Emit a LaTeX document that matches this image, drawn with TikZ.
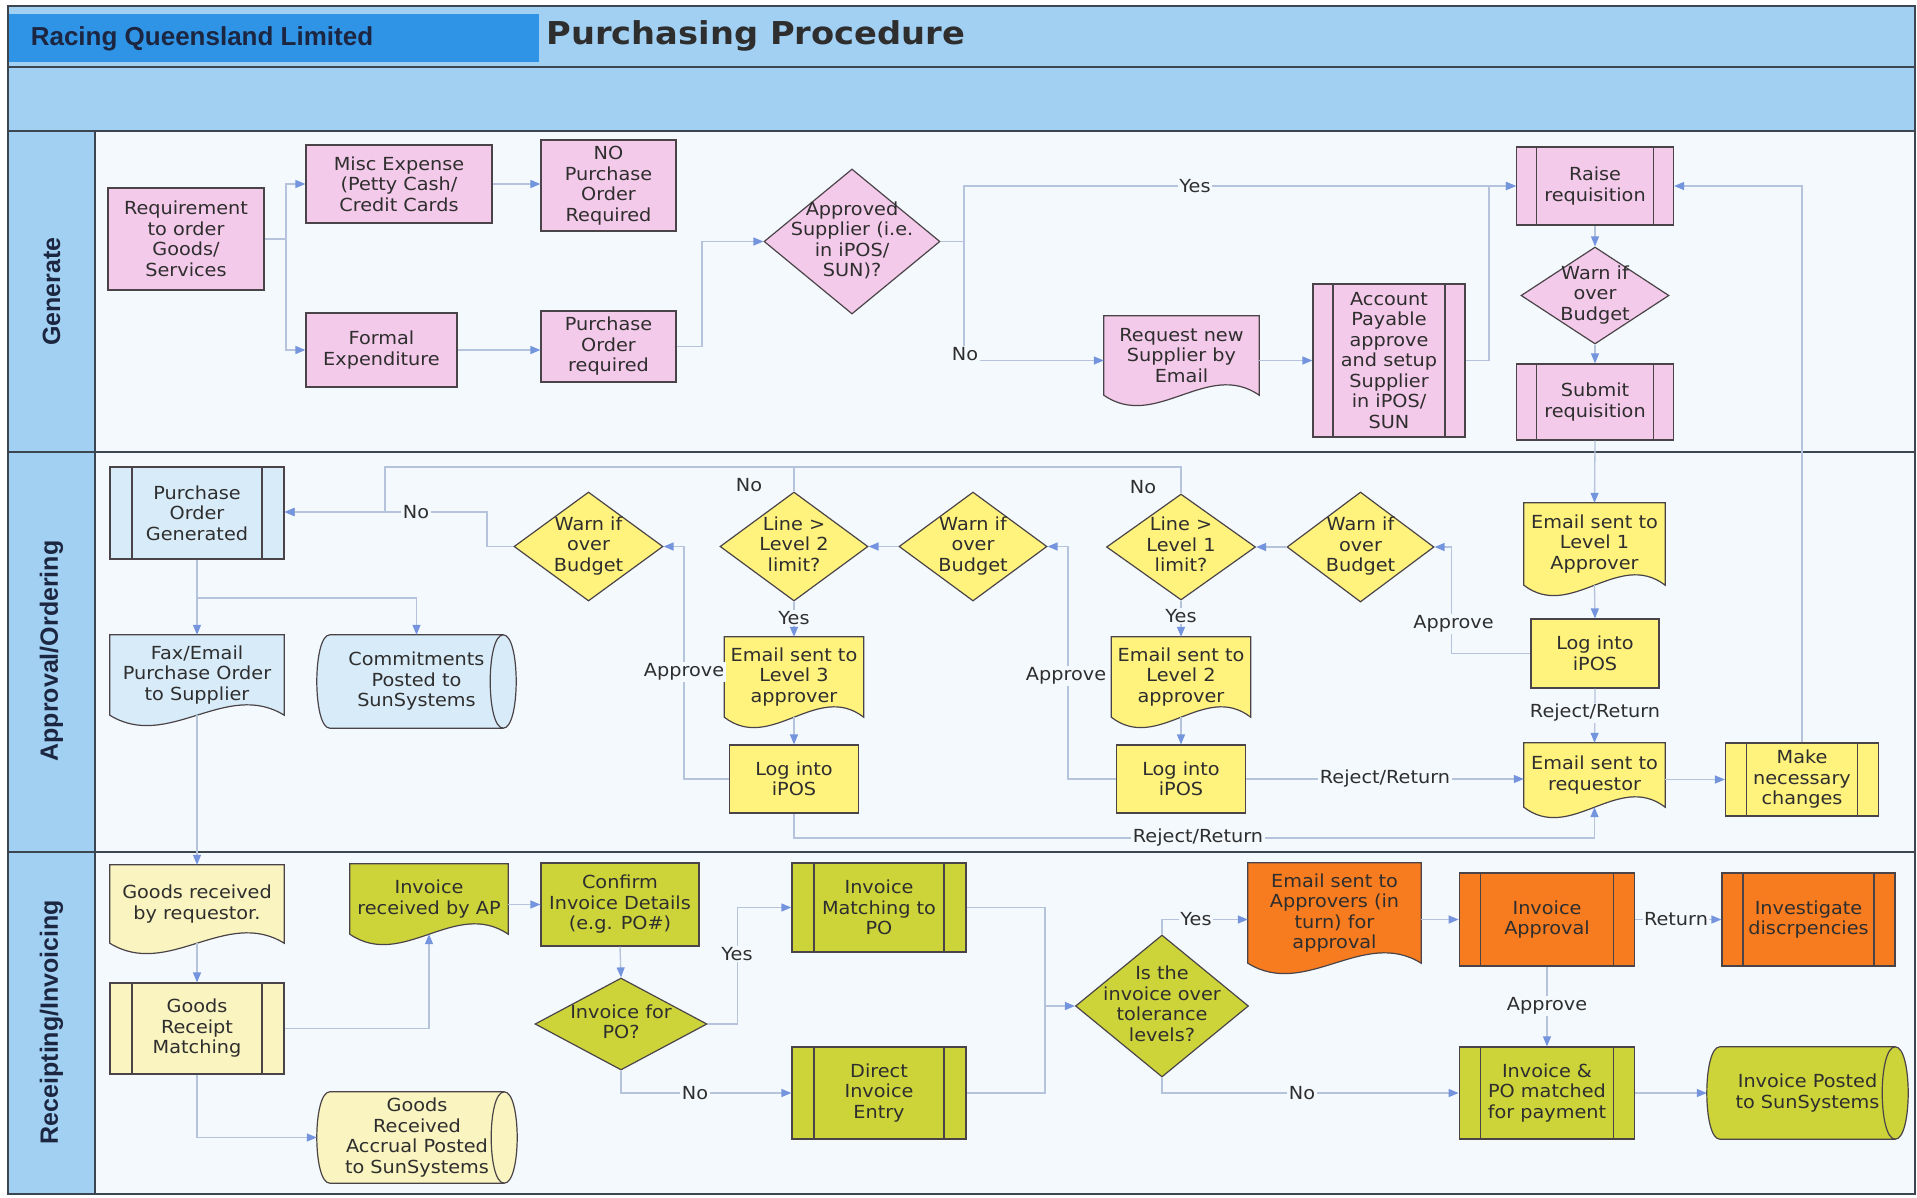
\documentclass[tikz,border=0pt]{standalone}
\usepackage{fontspec}
\setmainfont{DejaVu Sans}[FakeStretch=1.07]
\newfontfamily\hdrfont{Liberation Sans}
\usetikzlibrary{shapes.geometric,arrows.meta,calc}
\pgfdeclarelayer{bg}\pgfdeclarelayer{mid}\pgfsetlayers{bg,mid,main}
\definecolor{hdrblue}{HTML}{A2D0F3}
\definecolor{darkblue}{HTML}{2F93E6}
\definecolor{lanebg}{HTML}{F4F9FD}
\definecolor{framecol}{HTML}{3C4650}
\definecolor{bordercol}{HTML}{4A4448}
\definecolor{textcol}{HTML}{2E2E2E}
\definecolor{titlecol}{HTML}{1C2640}
\definecolor{linecol}{HTML}{B6C3DD}
\definecolor{arrowcol}{HTML}{7594DE}
\definecolor{pinkf}{HTML}{F4CAEA}
\definecolor{bluef}{HTML}{D8EBF8}
\definecolor{yelf}{HTML}{FFF27D}
\definecolor{lyelf}{HTML}{FAF4C0}
\definecolor{olivef}{HTML}{CDD43A}
\definecolor{orangef}{HTML}{F77B1F}
\newcommand\dtext[1]{\raisebox{-4.5pt}[0pt][0pt]{\makebox[0pt]{\begin{tabular}{@{}c@{}}#1\end{tabular}}}}
\newcommand\docshape[2]{%
\begin{pgfonlayer}{mid}
\draw[draw=bordercol, line width=1.2pt, fill=#2] (#1.north west) -- (#1.north east) -- (#1.south east)
  .. controls ($(#1.south east)!0.333!(#1.south west)+(0,-36)$) and ($(#1.south east)!0.667!(#1.south west)+(0,36)$) .. (#1.south west) -- cycle;
\end{pgfonlayer}}
\newcommand\cylshape[2]{%
\begin{pgfonlayer}{mid}
\draw[draw=bordercol, line width=1.2pt, fill=#2] ($(#1.north west)+(13,0)$) -- ($(#1.north east)+(-13,0)$)
  .. controls ($(#1.north east)+(4.33,0)$) and ($(#1.south east)+(4.33,0)$) .. ($(#1.south east)+(-13,0)$)
  -- ($(#1.south west)+(13,0)$)
  .. controls ($(#1.south west)+(-4.33,0)$) and ($(#1.north west)+(-4.33,0)$) .. ($(#1.north west)+(13,0)$) -- cycle;
\draw[draw=bordercol, line width=1.2pt] ($(#1.north east)+(-13,0)$) .. controls ($(#1.north east)+(-30.33,0)$) and ($(#1.south east)+(-30.33,0)$) .. ($(#1.south east)+(-13,0)$);
\end{pgfonlayer}}
\begin{document}
\begin{tikzpicture}[x=1pt,y=-1pt, font=\fontsize{18}{20.5}\selectfont,
  box/.style={rectangle, draw=bordercol, line width=1.2pt, align=center, inner sep=2pt, text=textcol},
  sz/.style 2 args={minimum width=#1, minimum height=#2},
  pp/.style={box, path picture={
    \draw[draw=bordercol, line width=1.2pt] ([xshift=#1]path picture bounding box.north west) -- ([xshift=#1]path picture bounding box.south west);
    \draw[draw=bordercol, line width=1.2pt] ([xshift=-#1]path picture bounding box.north east) -- ([xshift=-#1]path picture bounding box.south east);}},
  pp/.default=20pt,
  dia/.style={diamond, draw=bordercol, line width=1.2pt, inner sep=0pt, text=textcol},
  free/.style={rectangle, align=center, inner sep=2pt, text=textcol},
  conn/.style={draw=linecol, line width=1.3pt},
  arr/.style={conn, -{Triangle[length=10pt,width=8pt,color=arrowcol]}},
  lbl/.style={fill=lanebg, inner sep=1.5pt, text=textcol},
  lane/.style={rotate=90, text=titlecol, font=\hdrfont\bfseries\fontsize{25}{28}\selectfont}]
\useasboundingbox (0,0) rectangle (1917,1197);
% ---------- frame and lanes ----------
\begin{pgfonlayer}{bg}
\fill[white] (0,0) rectangle (1917,1197);
\fill[hdrblue] (8,6) rectangle (1915,131);
\fill[darkblue] (8,14) rectangle (539,62);
\fill[lanebg] (95,131) rectangle (1915,1194);
\fill[hdrblue] (8,131) rectangle (95,1194);
\draw[framecol, line width=2pt] (8,6) rectangle (1915,1194);
\draw[framecol, line width=2pt] (8,67) -- (1915,67);
\draw[framecol, line width=2pt] (8,131) -- (1915,131);
\draw[framecol, line width=1.6pt] (8,452) -- (1915,452);
\draw[framecol, line width=1.6pt] (8,852) -- (1915,852);
\draw[framecol, line width=1.6pt] (95,131) -- (95,1194);
\end{pgfonlayer}
\node[text=titlecol, font=\hdrfont\bfseries\fontsize{26}{30}\selectfont] (org) at (202,39) {Racing Queensland Limited};
\node[anchor=west, text=textcol, font=\bfseries\fontsize{31.5}{34}\selectfont] (title) at (543,36) {Purchasing Procedure};
\node[lane] (laneG) at (51.5,291.5) {Generate};
\node[lane] (laneA) at (51.5,651) {Approval/Ordering};
\node[lane] (laneR) at (51.5,1022) {Receipting/Invoicing};
% ---------- Generate ----------
\node[box, fill=pinkf, sz={156}{102}] (req) at (186,239) {Requirement\\to order\\Goods/\\Services};
\node[box, fill=pinkf, sz={186}{78}] (misc) at (399,184) {Misc Expense\\(Petty Cash/\\Credit Cards};
\node[box, fill=pinkf, sz={135}{91}] (nopo) at (608.5,185.5) {NO\\Purchase\\Order\\Required};
\node[box, fill=pinkf, sz={151}{74}] (formal) at (381.5,350) {Formal\\Expenditure};
\node[box, fill=pinkf, sz={135}{71}] (poreq) at (608.5,346.5) {Purchase\\Order\\required};
\node[dia, fill=pinkf, sz={176}{145}] (appsup) at (852,241.5) {\dtext{Approved\\Supplier (i.e.\\in iPOS/\\SUN)?}};
\node[free, sz={155}{79}] (reqsup) at (1181.5,355.5) {Request new\\Supplier by\\Email};
\node[pp, fill=pinkf, sz={152}{153}] (apsetup) at (1389,360.5) {Account\\Payable\\approve\\and setup\\Supplier\\in iPOS/\\SUN};
\node[pp, fill=pinkf, sz={157}{78}] (raise) at (1595,186) {Raise\\requisition};
\node[dia, fill=pinkf, sz={148}{97}] (warn0) at (1595,295.5) {\dtext{Warn if\\over\\Budget}};
\node[pp, fill=pinkf, sz={157}{76}] (submit) at (1595,402) {Submit\\requisition};
% ---------- Approval / Ordering ----------
\node[pp=22pt, fill=bluef, sz={174}{92}] (pogen) at (197,513) {Purchase\\Order\\Generated};
\node[free, sz={174}{80}] (fax) at (197,675) {Fax/Email\\Purchase Order\\to Supplier};
\node[free, sz={199}{93}] (commit) at (416.5,681.5) {Commitments\\Posted to\\SunSystems};
\node[dia, fill=yelf, sz={149}{109}] (warnA) at (588.5,546.5) {\dtext{Warn if\\over\\Budget}};
\node[dia, fill=yelf, sz={148}{109}] (lvl2) at (794,546.5) {\dtext{Line >\\Level 2\\limit?}};
\node[dia, fill=yelf, sz={148}{109}] (warnB) at (973,546.5) {\dtext{Warn if\\over\\Budget}};
\node[dia, fill=yelf, sz={149}{106}] (lvl1) at (1181,547) {\dtext{Line >\\Level 1\\limit?}};
\node[dia, fill=yelf, sz={147}{110}] (warnC) at (1360.5,547) {\dtext{Warn if\\over\\Budget}};
\node[free, sz={141}{82}] (email1) at (1594.5,544) {Email sent to\\Level 1\\Approver};
\node[box, fill=yelf, sz={128}{69}] (log1) at (1595,653.5) {Log into\\iPOS};
\node[free, sz={141}{64}] (emailreq) at (1594.5,775) {Email sent to\\requestor};
\node[pp=21pt, fill=yelf, sz={153}{73}] (make) at (1802,779.5) {Make\\necessary\\changes};
\node[free, sz={139}{80}] (email2) at (1181,677) {Email sent to\\Level 2\\approver};
\node[box, fill=yelf, sz={129}{68}] (log2) at (1181,779) {Log into\\iPOS};
\node[free, sz={139}{80}] (email3) at (794,677) {Email sent to\\Level 3\\approver};
\node[box, fill=yelf, sz={129}{68}] (log3) at (794,779) {Log into\\iPOS};
% ---------- Receipting / Invoicing ----------
\node[free, sz={174}{78}] (goodsrec) at (197,904) {Goods received\\by requestor.};
\node[pp=22pt, fill=lyelf, sz={174}{91}] (grm) at (197,1028.5) {Goods\\Receipt\\Matching};
\node[free, sz={200}{91}] (accrual) at (417,1137.5) {Goods\\Received\\Accrual Posted\\to SunSystems};
\node[free, sz={158}{70}] (invrec) at (429,899) {Invoice\\received by AP};
\node[box, fill=olivef, sz={158}{83}] (confirm) at (620,904.5) {Confirm\\Invoice Details\\(e.g. PO\#)};
\node[dia, fill=olivef, sz={172}{92}] (invpo) at (621,1024) {\dtext{Invoice for\\PO?}};
\node[pp=22pt, fill=olivef, sz={174}{89}] (match) at (879,907.5) {Invoice\\Matching to\\PO};
\node[pp=22pt, fill=olivef, sz={174}{92}] (direct) at (879,1093) {Direct\\Invoice\\Entry};
\node[dia, fill=olivef, sz={173}{142}] (tol) at (1162,1006) {\dtext{Is the\\invoice over\\tolerance\\levels?}};
\node[free, sz={173}{100}] (emailapp) at (1334.5,913) {Email sent to\\Approvers (in\\turn) for\\approval};
\node[pp=21pt, fill=orangef, sz={175.5}{93}] (invappr) at (1547,919.5) {Invoice\\Approval};
\node[pp=21pt, fill=orangef, sz={173}{93}] (invest) at (1808.5,919.5) {Investigate\\discrpencies};
\node[pp=21pt, fill=olivef, sz={175.5}{92}] (matched) at (1547,1093) {Invoice \&\\PO matched\\for payment};
\node[free, sz={201}{92}] (posted) at (1807.5,1093) {Invoice Posted\\to SunSystems};
% special shapes
\docshape{reqsup}{pinkf}
\docshape{fax}{bluef}
\docshape{email1}{yelf}
\docshape{emailreq}{yelf}
\docshape{email2}{yelf}
\docshape{email3}{yelf}
\docshape{goodsrec}{lyelf}
\docshape{invrec}{olivef}
\docshape{emailapp}{orangef}
\cylshape{commit}{bluef}
\cylshape{accrual}{lyelf}
\cylshape{posted}{olivef}
% ---------- connectors: Generate ----------
\coordinate (b1) at (286,239);
\draw[conn] (req.east) -- (b1);
\draw[arr] (b1) |- (misc.west);
\draw[arr] (b1) |- (formal.west);
\draw[arr] (misc.east) -- (misc.east -| nopo.west);
\draw[arr] (formal.east) -- (formal.east -| poreq.west);
\draw[arr] (poreq.east) -- (702,346.5) |- (appsup.west);
\coordinate (ysplit) at (964,241.5);
\draw[conn] (appsup.east) -- (ysplit);
\draw[arr] (ysplit) |- (raise.west);
\draw[arr] (ysplit) |- (reqsup.west |- apsetup.west);
\draw[arr] (reqsup.east |- apsetup.west) -- (apsetup.west);
\draw[arr] (apsetup.east) -- (1489,360.5) |- (raise.west);
\draw[arr] (raise.south) -- (warn0.north);
\draw[arr] (warn0.south) -- (submit.north);
\draw[arr] (submit.south) -- (email1.north);
\draw[arr] (make.north) |- (raise.east);
\node[lbl] (lyes1) at (1195,186) {Yes};
\node[lbl] (lno1) at (965,354) {No};
% ---------- connectors: Approval ----------
\draw[arr] (email1.south) -- (log1.north);
\draw[arr] (log1.west) -- (1451.5,653.5) |- (warnC.east);
\draw[arr] (log1.south) -- (emailreq.north);
\draw[arr] (warnC.west) -- (lvl1.east);
\coordinate (noj) at (385,512);
\draw[arr] (lvl1.north) -- (1181,467) -- (385,467) -- (noj) -- (pogen.east |- noj);
\draw[arr] (warnA.west) -- (487,546.5) |- (pogen.east |- noj);
\draw[conn] (lvl2.north) -- (794,467);
\draw[arr] (warnB.west) -- (lvl2.east);
\draw[arr] (lvl2.south) -- (email3.north);
\draw[arr] (email3.south) -- (log3.north);
\draw[arr] (log3.west) -- (684,779) |- (warnA.east);
\draw[arr] (log3.south) -- (794,838) -| (emailreq.south);
\draw[arr] (lvl1.south) -- (email2.north);
\draw[arr] (email2.south) -- (log2.north);
\draw[arr] (log2.west) -- (1068,779) |- (warnB.east);
\draw[arr] (log2.east) -- (emailreq.west |- log2.east);
\draw[arr] (emailreq.east |- make.west) -- (make.west);
\coordinate (pgsplit) at (197,598);
\draw[arr] (pogen.south) -- (fax.north);
\draw[arr] (pgsplit) -| (commit.north);
\draw[arr] (fax.south) -- (goodsrec.north);
\node[lbl] (lno2) at (416,512) {No};
\node[lbl] (lno3) at (749,485) {No};
\node[lbl] (lno4) at (1143,487) {No};
\node[lbl] (lyes2) at (794,618) {Yes};
\node[lbl] (lyes3) at (1181,616) {Yes};
\node[lbl] (lapp1) at (684,672) {Approve};
\node[lbl] (lapp2) at (1066,676) {Approve};
\node[lbl] (lapp3) at (1453.5,624) {Approve};
\node[lbl] (lrej1) at (1595,713) {Reject/Return};
\node[lbl] (lrej2) at (1385,779) {Reject/Return};
\node[lbl] (lrej3) at (1198,838) {Reject/Return};
% ---------- connectors: Receipting ----------
\draw[arr] (goodsrec.south) -- (grm.north);
\draw[arr] (grm.east) -| (invrec.south);
\draw[arr] (grm.south) |- (accrual.west);
\draw[arr] (invrec.east |- confirm.west) -- (confirm.west);
\draw[arr] (confirm.south) -- (invpo.north);
\draw[arr] (invpo.east) -- (737.6,1024) |- (match.west);
\draw[arr] (invpo.south) |- (direct.west);
\coordinate (mj) at (1045,1006);
\draw[conn] (match.east) -| (mj);
\draw[conn] (direct.east) -| (mj);
\draw[arr] (mj) -- (tol.west);
\draw[arr] (tol.north) |- (emailapp.west |- invappr.west);
\draw[arr] (tol.south) |- (matched.west);
\draw[arr] (emailapp.east |- invappr.west) -- (invappr.west);
\draw[arr] (invappr.east) -- (invest.west);
\draw[arr] (invappr.south) -- (matched.north);
\draw[arr] (matched.east) -- (posted.west);
\node[lbl] (lyes4) at (737,954) {Yes};
\node[lbl] (lno5) at (695,1093) {No};
\node[lbl] (lyes5) at (1196,919.5) {Yes};
\node[lbl] (lno6) at (1302,1093) {No};
\node[lbl] (lret) at (1676,919.5) {Return};
\node[lbl] (lapp4) at (1547,1006) {Approve};
\end{tikzpicture}
\end{document}
